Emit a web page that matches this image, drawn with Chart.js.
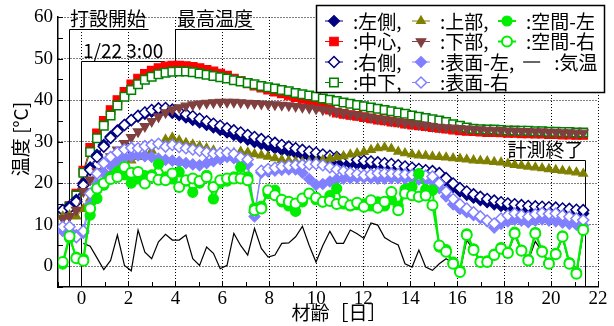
<!DOCTYPE html>
<html>
<head>
<meta charset="utf-8">
<title>材齢と温度</title>
<script src="https://cdn.jsdelivr.net/npm/chart.js"></script>
<style>
  html, body { margin: 0; padding: 0; background: #fff; }
  #wrap { width: 614px; height: 326px; }
</style>
</head>
<body>
<div id="wrap"><canvas id="myChart" width="614" height="326"></canvas></div>
<script>
  // 材齢 [日] for every reading (about every 7 hours)
  const ages = [-0.80, -0.51, -0.22, 0.08, 0.37, 0.66, 0.95, 1.24, 1.53, 1.83,
    2.12, 2.41, 2.70, 2.99, 3.28, 3.58, 3.87, 4.16, 4.45, 4.74,
    5.03, 5.33, 5.62, 5.91, 6.20, 6.49, 6.78, 7.08, 7.37, 7.66,
    7.95, 8.24, 8.53, 8.83, 9.12, 9.41, 9.70, 9.99, 10.28, 10.58,
    10.87, 11.16, 11.45, 11.74, 12.03, 12.33, 12.62, 12.91, 13.20, 13.49,
    13.78, 14.08, 14.37, 14.66, 14.95, 15.24, 15.53, 15.83, 16.12, 16.41,
    16.70, 16.99, 17.28, 17.58, 17.87, 18.16, 18.45, 18.74, 19.03, 19.33,
    19.62, 19.91, 20.20, 20.49, 20.78, 21.08, 21.37];

  const hidariGawa = [13.5, 14.5, 16.0, 20.0, 23.8, 26.8, 29.2, 31.2, 32.7, 34.0,
    35.1, 36.0, 36.7, 37.2, 37.5, 37.4, 36.9, 36.4, 35.8, 35.2,
    34.6, 34.0, 33.4, 32.8, 32.2, 31.6, 31.0, 30.5, 29.9, 29.4,
    28.9, 28.4, 28.0, 27.6, 27.2, 26.8, 26.4, 26.0, 25.7, 25.4,
    25.1, 24.9, 24.7, 24.6, 24.5, 24.5, 24.4, 24.3, 24.1, 23.9,
    23.6, 23.3, 23.0, 22.7, 22.3, 21.6, 20.4, 19.1, 18.0, 17.2,
    16.5, 15.9, 15.4, 14.9, 14.5, 14.1, 13.9, 13.7, 13.5, 13.4,
    13.3, 13.2, 13.1, 13.0, 12.9, 12.8, 12.7];

  const chushin = [12.5, 14.5, 17.5, 23.0, 28.5, 32.0, 35.0, 37.6, 40.0, 42.0,
    43.8, 45.2, 46.3, 47.1, 47.7, 48.1, 48.3, 48.3, 48.2, 48.0,
    47.7, 47.3, 46.9, 46.4, 45.9, 45.2, 44.6, 44.0, 43.5, 43.0,
    42.5, 42.0, 41.6, 41.1, 40.7, 40.3, 39.8, 39.3, 38.4, 37.7,
    37.0, 36.7, 36.4, 36.2, 35.9, 35.6, 35.3, 35.1, 34.8, 34.6,
    34.3, 34.1, 33.9, 33.7, 33.5, 33.3, 33.1, 32.9, 32.7, 32.6,
    32.5, 32.4, 32.3, 32.3, 32.2, 32.1, 32.1, 32.0, 32.0, 31.9,
    31.9, 31.8, 31.8, 31.7, 31.7, 31.6, 31.6];

  const migiGawa = [13.5, 14.0, 15.5, 19.5, 23.2, 26.3, 28.8, 30.9, 32.5, 34.0,
    35.2, 36.2, 37.0, 37.6, 38.0, 38.1, 37.7, 37.2, 36.6, 36.1,
    35.5, 34.9, 34.3, 33.8, 33.2, 32.7, 32.2, 31.6, 31.1, 30.6,
    30.1, 29.7, 29.2, 28.8, 28.4, 28.0, 27.6, 27.3, 26.9, 26.6,
    26.3, 26.0, 25.8, 25.6, 25.4, 25.2, 25.0, 24.8, 24.6, 24.3,
    24.0, 23.7, 23.4, 23.1, 22.9, 22.4, 21.2, 19.9, 18.8, 18.0,
    17.3, 16.7, 16.2, 15.8, 15.4, 15.1, 14.9, 14.7, 14.5, 14.4,
    14.3, 14.2, 14.1, 13.9, 13.8, 13.6, 13.5];

  const chuge = [12.5, 14.3, 17.0, 22.5, 27.5, 30.8, 33.8, 36.3, 38.7, 40.8,
    42.4, 43.8, 44.9, 45.6, 46.2, 46.6, 46.8, 46.9, 46.9, 46.7,
    46.4, 46.1, 45.8, 45.5, 45.2, 44.8, 44.5, 44.1, 43.8, 43.4,
    43.1, 42.8, 42.4, 42.1, 41.7, 41.4, 41.1, 40.8, 40.4, 40.1,
    39.8, 39.4, 39.1, 38.8, 38.5, 38.2, 37.9, 37.6, 37.3, 37.0,
    36.7, 36.3, 36.0, 35.7, 35.4, 35.1, 34.7, 34.2, 33.8, 33.4,
    33.1, 33.0, 32.9, 32.9, 32.8, 32.7, 32.7, 32.6, 32.6, 32.5,
    32.5, 32.4, 32.4, 32.3, 32.3, 32.2, 32.2];

  const jobu = [12.0, 12.3, 12.0, 13.8, 16.3, 18.5, 20.5, 22.0, 23.4, 24.6,
    25.5, 26.3, 27.0, 27.8, 29.2, 30.5, 31.0, 30.3, 29.7, 29.3,
    28.9, 28.4, 27.9, 27.4, 27.2, 27.3, 27.6, 27.4, 27.0, 26.7,
    26.4, 26.0, 25.6, 25.4, 25.2, 25.1, 25.1, 25.2, 25.5, 25.9,
    26.2, 26.5, 26.9, 27.2, 27.5, 28.0, 28.4, 28.6, 28.3, 27.6,
    27.2, 26.9, 26.7, 26.6, 26.4, 26.3, 26.2, 26.0, 25.9, 25.7,
    25.5, 25.4, 25.3, 25.1, 25.0, 24.7, 24.4, 24.2, 24.0, 23.8,
    23.6, 23.4, 23.2, 23.0, 22.8, 22.6, 22.3];

  const kabu = [11.5, 12.0, 13.5, 18.0, 20.8, 22.8, 24.7, 26.4, 28.0, 29.6,
    31.0, 32.4, 33.7, 34.9, 36.0, 37.0, 37.7, 38.2, 38.6, 38.9,
    39.1, 39.3, 39.4, 39.5, 39.5, 39.5, 39.4, 39.3, 39.2, 39.1,
    39.0, 38.9, 38.8, 38.7, 38.5, 38.3, 38.1, 37.9, 37.7, 37.5,
    37.2, 36.9, 36.6, 36.4, 36.1, 35.8, 35.5, 35.3, 35.0, 34.8,
    34.5, 34.3, 34.1, 33.9, 33.7, 33.5, 33.4, 33.3, 33.2, 33.1,
    33.0, 32.9, 32.8, 32.8, 32.7, 32.6, 32.6, 32.5, 32.5, 32.4,
    32.4, 32.3, 32.3, 32.2, 32.2, 32.1, 32.1];

  const hyomenHidari = [8.5, 8.5, 7.5, 8.0, 15.0, 19.8, 22.6, 24.3, 25.4, 26.1,
    26.5, 26.7, 26.5, 26.3, 25.9, 25.6, 25.4, 25.1, 24.8, 24.5,
    24.3, 24.8, 25.3, 25.8, 26.3, 26.0, 25.2, 24.5, 12.0, 22.5,
    22.8, 23.0, 23.2, 23.3, 23.3, 22.5, 21.0, 19.6, 19.8, 20.4,
    20.9, 21.1, 21.2, 21.3, 21.3, 21.2, 21.1, 21.1, 21.2, 21.2,
    21.1, 21.0, 20.9, 20.7, 20.4, 18.8, 16.8, 14.9, 13.8, 13.0,
    12.3, 11.6, 10.8, 9.3, 10.2, 10.8, 11.2, 11.0, 10.6, 11.0,
    11.3, 11.0, 10.8, 10.5, 10.2, 10.0, 9.8];

  const hyomenMigi = [9.5, 9.5, 7.0, 8.5, 17.5, 22.3, 24.8, 26.3, 27.4, 28.1,
    28.5, 28.4, 28.9, 29.2, 29.5, 28.8, 29.2, 28.7, 28.4, 28.1,
    27.8, 27.4, 27.1, 27.2, 27.3, 27.0, 26.2, 25.7, 13.0, 23.0,
    23.4, 23.7, 24.0, 24.2, 24.3, 24.4, 24.5, 24.6, 24.3, 23.8,
    23.3, 22.9, 22.5, 22.2, 21.9, 22.1, 22.4, 22.4, 22.3, 22.2,
    22.1, 22.0, 21.9, 21.8, 21.6, 20.0, 18.0, 16.2, 14.9, 13.9,
    13.0, 12.0, 11.0, 10.3, 11.5, 12.2, 12.7, 12.3, 11.9, 12.5,
    12.8, 12.6, 12.7, 12.2, 11.9, 11.5, 11.1];

  const kukanHidari = [0.5, 6.8, 2.2, 1.8, 12.3, 16.3, 19.5, 21.5, 22.7, 22.0,
    20.0, 21.0, 21.8, 22.0, 24.6, 21.5, 21.0, 22.7, 20.5, 17.8,
    20.0, 21.9, 16.2, 20.0, 20.5, 21.5, 23.8, 21.5, 14.0, 14.5,
    17.5, 18.3, 15.5, 14.5, 13.2, 15.5, 17.5, 16.0, 15.5, 17.0,
    18.7, 15.0, 14.5, 14.8, 15.0, 14.5, 15.5, 14.5, 16.0, 14.5,
    18.5, 19.1, 22.3, 18.5, 18.3, 4.6, 4.0, 1.0, -1.0, 7.8,
    4.2, 1.2, 1.3, 2.9, 4.5, 3.4, 8.2, 3.9, 1.6, 8.1,
    3.7, 0.8, 3.1, 7.3, 0.9, -1.5, 8.9];

  const kukanMigi = [1.0, 7.2, 1.9, 1.3, 13.9, 18.7, 20.0, 21.0, 21.5, 23.9,
    22.5, 22.7, 19.9, 21.5, 20.8, 20.7, 22.3, 19.1, 20.7, 21.1,
    20.5, 21.5, 19.1, 20.7, 21.1, 21.1, 21.1, 20.7, 13.5, 13.9,
    18.3, 17.1, 16.0, 15.5, 15.1, 16.3, 17.5, 16.5, 15.5, 15.7,
    15.0, 15.5, 14.7, 15.3, 14.3, 15.9, 14.1, 15.5, 17.9, 13.5,
    17.5, 17.1, 16.7, 17.0, 14.7, 5.0, 3.5, 0.6, -1.4, 7.5,
    3.9, 1.0, 1.0, 2.7, 4.2, 3.2, 7.9, 3.7, 1.4, 7.9,
    3.5, 0.6, 2.9, 7.1, 0.6, -1.8, 8.7];

  const kion = [null, null, null, 5.5, 4.8, 2.0, -0.8, 1.4, 7.5, 0.2,
    -1.1, 8.7, 3.4, 1.8, 5.9, 7.7, 6.3, 6.3, 7.5, 1.8,
    0.2, 4.6, 3.1, -0.6, 0.2, 7.9, 5.0, 2.7, 9.1, 4.3,
    2.2, 2.7, 5.5, 5.6, 7.1, 9.6, 5.0, 1.0, 5.0, 8.4,
    5.5, 5.5, 8.7, 7.8, 6.7, 10.4, 9.9, 6.9, 5.9, 5.1,
    0.6, -0.2, 3.9, -0.2, -1.0, 0.6, 1.8, 0.8, -1.2, 6.3,
    3.9, 1.0, 1.0, 2.7, 4.2, 3.2, 7.5, 3.7, 1.4, 6.0,
    3.5, 0.6, 2.9, 6.8, 0.6, -1.8, 8.0];

  const xTickLabels = [0, 2, 4, 6, 8, 10, 12, 14, 16, 18, 20, 22];
  const yTickLabels = [0, 10, 20, 30, 40, 50, 60];

  // ages of the marked events
  const castAge = -0.55;   // 打設開始
  const peakAge = 4.0;     // 最高温度
  const endAge = 21.43;    // 計測終了

  const JP = "'Noto Sans CJK JP', 'Noto Sans', sans-serif";
  const SERIF = "'Liberation Serif', 'DejaVu Serif', serif";
  const LIME = '#00ee00';

  const pts = vals => ages.map((a, i) => ({ x: a, y: vals[i] }));

  function ds(label, vals, color, opts) {
    return Object.assign({
      label: label,
      data: pts(vals),
      borderColor: color,
      backgroundColor: color,
      pointBorderColor: color,
      pointBackgroundColor: color,
      borderWidth: 1,
      pointBorderWidth: 1.2,
      pointRadius: 5,
      pointHoverRadius: 5,
      tension: 0,
      fill: false
    }, opts);
  }

  // order: lower number is drawn on top
  const datasets = [
    ds('左側', hidariGawa, '#000080', { pointStyle: 'rectRot', pointRadius: 5.5, borderDash: [4, 3], order: 9 }),
    ds('中心', chushin, '#ff0000', { pointStyle: 'rect', pointRadius: 6, order: 11 }),
    ds('右側', migiGawa, '#000080', { pointStyle: 'rectRot', pointRadius: 5.5, pointBackgroundColor: '#fff', pointBorderWidth: 1.5, order: 8 }),
    ds('中下', chuge, '#008000', { pointStyle: 'rect', pointRadius: 6, pointBackgroundColor: '#fff', pointBorderWidth: 1.5, order: 10 }),
    ds('上部', jobu, '#808000', { pointStyle: 'triangle', pointRadius: 5, order: 7 }),
    ds('下部', kabu, '#804040', { pointStyle: 'triangle', pointRotation: 180, pointRadius: 5.5, order: 6 }),
    ds('表面-左', hyomenHidari, '#8080ff', { pointStyle: 'rectRot', pointRadius: 5.5, order: 5 }),
    ds('表面-右', hyomenMigi, '#8080ff', { pointStyle: 'rectRot', pointRadius: 5.5, pointBackgroundColor: '#fff', pointBorderWidth: 1.5, order: 4 }),
    ds('空間-左', kukanHidari, LIME, { pointStyle: 'circle', pointRadius: 5, borderWidth: 2, order: 2 }),
    ds('空間-右', kukanMigi, LIME, { pointStyle: 'circle', pointRadius: 5, borderWidth: 2, pointBorderWidth: 2, pointBackgroundColor: '#fff', order: 1 }),
    ds('気温', kion, '#000', { pointRadius: 0, borderWidth: 1.2, order: 3 })
  ];

  const marks = [
    { text: '打設開始', age: castAge, textY: 19, barY: 29 },
    { text: '1/22 3:00', age: 0, textY: 51, barY: 61 },
    { text: '最高温度', age: peakAge, textY: 19, barY: 29, toValue: Math.max(...chushin) },
    { text: '計測終了', age: endAge, textY: 150, barY: 160, left: true }
  ];

  function drawSwatch(ctx, d, x1, x2, cy) {
    ctx.save();
    ctx.strokeStyle = d.borderColor;
    ctx.lineWidth = d.borderWidth;
    ctx.setLineDash(d.borderDash || []);
    ctx.beginPath();
    ctx.moveTo(x1, cy + 0.5);
    ctx.lineTo(x2, cy + 0.5);
    ctx.stroke();
    ctx.setLineDash([]);
    if (d.pointRadius > 0) {
      ctx.fillStyle = d.pointBackgroundColor;
      ctx.strokeStyle = d.pointBorderColor;
      ctx.lineWidth = d.pointBorderWidth;
      Chart.helpers.drawPoint(ctx, {
        pointStyle: d.pointStyle,
        rotation: d.pointRotation || 0,
        radius: d.pointRadius,
        borderWidth: d.pointBorderWidth
      }, (x1 + x2) / 2, cy + 0.5);
    }
    ctx.restore();
  }

  // inward ticks, event lines, event labels, axis titles and the boxed legend
  const decor = {
    id: 'decor',
    beforeDatasetsDraw(chart) {
      const { ctx, chartArea: a, scales: { x, y } } = chart;
      ctx.save();
      ctx.strokeStyle = '#000';
      ctx.lineWidth = 1;
      ctx.beginPath();
      for (let v = -1; v <= 22; v++) {
        const px = Math.round(x.getPixelForValue(v)) + 0.5;
        ctx.moveTo(px, a.bottom);
        ctx.lineTo(px, a.bottom - 5);
      }
      for (let v = -5; v <= 60; v += 5) {
        const py = Math.round(y.getPixelForValue(v)) + 0.5;
        ctx.moveTo(a.left, py);
        ctx.lineTo(a.left + 5, py);
      }
      ctx.stroke();

      ctx.font = '19px ' + JP;
      marks.forEach(m => {
        const px = Math.round(x.getPixelForValue(m.age)) + 0.5;
        const w = ctx.measureText(m.text).width + 3;
        const bottom = m.toValue !== undefined ? y.getPixelForValue(m.toValue) : a.bottom;
        ctx.beginPath();
        ctx.moveTo(m.left ? px - w : px + w, m.barY + 0.5);
        ctx.lineTo(px, m.barY + 0.5);
        ctx.lineTo(px, bottom);
        ctx.stroke();
      });
      ctx.restore();
    },
    afterDatasetsDraw(chart) {
      const { ctx, scales: { x } } = chart;
      ctx.save();
      ctx.fillStyle = '#000';
      ctx.font = '19px ' + JP;
      ctx.textBaseline = 'middle';
      marks.forEach(m => {
        const px = x.getPixelForValue(m.age);
        ctx.textAlign = m.left ? 'right' : 'left';
        ctx.fillText(m.text, m.left ? px - 1 : px + 1.5, m.textY);
      });

      // axis titles
      ctx.textAlign = 'center';
      ctx.fillText('材齢［日］', 339, 313);
      ctx.save();
      ctx.translate(21, 139);
      ctx.rotate(-Math.PI / 2);
      ctx.fillText('温度 [°C]', 0, 0);
      ctx.restore();

      // legend
      const L = { x: 316, y: 5, w: 288, h: 87 };
      ctx.fillStyle = '#fff';
      ctx.fillRect(L.x, L.y, L.w, L.h);
      ctx.strokeStyle = '#000';
      ctx.lineWidth = 1.5;
      ctx.strokeRect(L.x + 0.5, L.y + 0.5, L.w, L.h);

      const rowsY = [20.5, 41, 61.5, 82];
      const colsX = [334, 421, 507];
      const grid = [[0, 4, 8], [1, 5, 9], [2, 6], [3, 7]];
      ctx.textAlign = 'left';
      let afterSurface = 0;
      grid.forEach((row, r) => {
        row.forEach((di, c) => {
          const d = chart.data.datasets[di];
          const cx = colsX[c], cy = rowsY[r];
          drawSwatch(ctx, d, cx - 9, cx + 9, cy);
          const comma = (c === 0 || (c === 1 && r < 3)) ? ',' : '';
          const label = ':' + d.label + comma;
          ctx.fillStyle = '#000';
          ctx.font = '19px ' + JP;
          ctx.fillText(label, cx + 19, cy + 1);
          if (di === 6) afterSurface = cx + 19 + ctx.measureText(label).width;
        });
      });
      // 気温 entry follows 表面-左 on the third row
      const air = chart.data.datasets[10];
      const lx = afterSurface + 9;
      drawSwatch(ctx, air, lx, lx + 17, rowsY[2]);
      ctx.fillStyle = '#000';
      ctx.fillText(':' + air.label, lx + 31, rowsY[2] + 1);
      ctx.restore();
    }
  };

  new Chart(document.getElementById('myChart').getContext('2d'), {
    type: 'line',
    data: { datasets: datasets },
    options: {
      responsive: false,
      animation: false,
      devicePixelRatio: 1,
      layout: { padding: { top: 17, right: 16, left: 0, bottom: 0 } },
      plugins: { legend: { display: false }, tooltip: { enabled: false } },
      scales: {
        x: {
          type: 'linear', min: -1, max: 22,
          afterFit: s => { s.height = 39; },
          ticks: {
            stepSize: 1, autoSkip: false, maxRotation: 0, padding: 1, color: '#000',
            font: { family: SERIF, size: 19 },
            callback: v => xTickLabels.includes(v) ? String(v) : ''
          },
          grid: {
            drawTicks: false, lineWidth: 1,
            color: c => (c.tick && xTickLabels.includes(c.tick.value)) ? '#000' : 'rgba(0,0,0,0)'
          },
          border: { color: '#000', width: 1.5, dash: [1, 2] }
        },
        y: {
          min: -5, max: 60,
          afterFit: s => { s.width = 58; },
          ticks: {
            stepSize: 5, autoSkip: false, padding: 5, color: '#000',
            font: { family: SERIF, size: 19 },
            callback: v => yTickLabels.includes(v) ? String(v) : ''
          },
          grid: {
            drawTicks: false, lineWidth: 1,
            color: c => (c.tick && yTickLabels.includes(c.tick.value)) ? '#000' : 'rgba(0,0,0,0)'
          },
          border: { color: '#000', width: 1.5, dash: [1, 2] }
        }
      }
    },
    plugins: [decor]
  });
</script>
</body>
</html>
